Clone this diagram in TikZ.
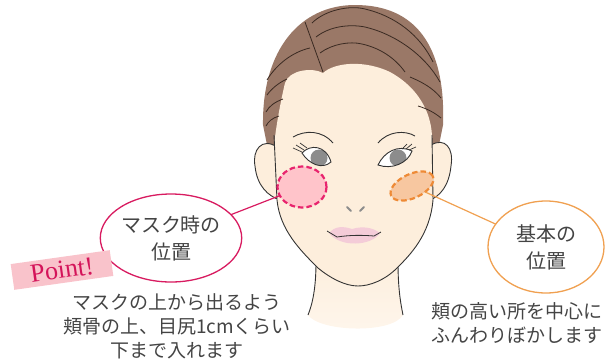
\documentclass[tikz,border=0pt]{standalone}
\usepackage{fontspec}
\setmainfont{Noto Sans CJK JP}
\newfontfamily\pointfont{Liberation Serif}
\usetikzlibrary{shapes.geometric}
\definecolor{hair}{HTML}{9A7867}
\definecolor{skin}{HTML}{FDEEDC}
\definecolor{ink}{HTML}{333333}
\definecolor{strand}{HTML}{3A2A22}
\definecolor{blushpink}{HTML}{FFC4CA}
\definecolor{edgepink}{HTML}{E8246E}
\definecolor{blushorange}{HTML}{F7C7A0}
\definecolor{edgeorange}{HTML}{EE8A36}
\definecolor{calloutpink}{HTML}{D81B60}
\definecolor{calloutorange}{HTML}{F0A050}
\definecolor{lip}{HTML}{F4CCD8}
\definecolor{iris}{HTML}{8C8C8C}
\definecolor{pointbg}{HTML}{F9C3CB}
\definecolor{pointred}{HTML}{D4145A}
\definecolor{textgray}{HTML}{444444}
\tikzset{
  outline/.style={draw=ink, line width=0.9pt},
  hairline/.style={draw=strand, line width=0.8pt},
  blush/.style={ellipse, inner sep=0pt, outer sep=0pt, line width=2.2pt, dash pattern=on 5.5pt off 3pt},
  callout/.style={ellipse, inner sep=0pt, outer sep=0pt, line width=1.3pt, fill=white, align=center,
    text=textgray, font=\fontsize{20}{27}\selectfont},
  note/.style={align=center, text=textgray, font=\fontsize{19}{24}\selectfont, inner sep=0pt}
}
\begin{document}
\begin{tikzpicture}[x=1pt,y=-1pt]
\useasboundingbox (0,0) rectangle (606,360);

% hair mass
\fill[hair] (268,150) -- (263,125) .. controls (262,50) and (300,5) .. (355,5)
  .. controls (415,5) and (446,45) .. (443,125) -- (438,150) -- cycle;

% ears
\filldraw[fill=skin, outline] (277,147) .. controls (262,137) and (252,150) .. (255,166)
  .. controls (257,186) and (268,196) .. (280,200) -- cycle;
\filldraw[fill=skin, outline] (431,145) .. controls (445,137) and (454,148) .. (451,166)
  .. controls (449,186) and (440,196) .. (430,200) -- cycle;

% neck, fading out at the bottom
\shade[top color=skin, bottom color=skin!55!white] (316,255) .. controls (316,290) and (312,305) .. (308,315)
  .. controls (320,332) and (392,334) .. (403,315)
  .. controls (401,305) and (398,290) .. (398,255) -- cycle;
\draw[outline] (316,262) .. controls (316,290) and (312,305) .. (308,315);
\draw[outline] (398,262) .. controls (398,290) and (401,305) .. (403,315);

% face
\fill[skin] (274,145) .. controls (277,120) and (281,100) .. (285,83)
  .. controls (289,70) and (312,67) .. (323,73)
  .. controls (335,62) and (365,60) .. (390,72)
  .. controls (412,84) and (430,105) .. (432,135)
  -- (433,200) .. controls (430,235) and (410,255) .. (397,268)
  .. controls (385,280) and (370,286) .. (358,286)
  .. controls (345,286) and (330,278) .. (318,268)
  .. controls (300,250) and (280,230) .. (277,200) -- cycle;
\draw[outline] (274,135) -- (277,200) .. controls (280,230) and (300,250) .. (318,268)
  .. controls (330,278) and (345,286) .. (358,286)
  .. controls (370,286) and (385,280) .. (397,268)
  .. controls (410,255) and (430,235) .. (433,200) -- (432,135);

% hair strands
\draw[hairline] (305,22) -- (323,72);
\draw[hairline] (312,23) .. controls (325,10) and (350,5) .. (365,9) .. controls (395,16) and (420,35) .. (433,62);
\draw[hairline] (316,37) .. controls (330,26) and (350,24) .. (365,27) .. controls (395,34) and (425,55) .. (440,82);
\draw[hairline] (320,53) .. controls (332,44) and (350,41) .. (362,44) .. controls (380,48) and (395,58) .. (405,72);
\draw[hairline] (410,77) .. controls (422,82) and (433,88) .. (441,98);
\draw[hairline] (418,106) .. controls (428,109) and (435,113) .. (441,118);
\draw[hairline] (267,80) .. controls (276,65) and (292,52) .. (310,48);
\draw[hairline] (267,95) .. controls (272,88) and (280,82) .. (287,79);
\draw[hairline] (266,112) .. controls (269,106) and (275,102) .. (283,99);
\draw[hairline] (266,126) .. controls (268,122) and (272,118) .. (279,116);

% eyebrows
\draw[outline] (293,137) .. controls (305,130) and (322,130) .. (333,143);
\draw[outline] (378,143) .. controls (388,131) and (405,130) .. (415,136);

% left eye
\begin{scope}
  \clip (302,153) .. controls (310,144) and (326,145) .. (331,162) .. controls (322,170) and (309,164) .. (302,153) -- cycle;
  \fill[white] (300,140) rectangle (335,170);
  \fill[iris] (319,158) circle (8.5);
\end{scope}
\draw[outline] (302,153) .. controls (310,144) and (326,145) .. (331,162) .. controls (322,170) and (309,164) .. (302,153) -- cycle;
\draw[outline, line width=0.7pt] (302,152) -- (293,148) (304,150) -- (296,145) (307,148) -- (300,143);

% right eye
\begin{scope}
  \clip (378,165) .. controls (384,152) and (398,144) .. (412,151) .. controls (408,163) and (392,170) .. (378,165) -- cycle;
  \fill[white] (375,140) rectangle (415,172);
  \fill[iris] (398,158) circle (8.5);
\end{scope}
\draw[outline] (378,165) .. controls (384,152) and (398,144) .. (412,151) .. controls (408,163) and (392,170) .. (378,165) -- cycle;
\draw[outline, line width=0.7pt] (402,149) -- (407,144) (406,149) -- (412,144) (409,150) -- (416,147);

% nose
\draw[iris, line width=1.8pt, line cap=round] (347,207) -- (351,211) (364,207) -- (360,211);

% lips
\fill[lip] (329,233) .. controls (335,226) and (343,226) .. (352,229)
  .. controls (362,226) and (372,227) .. (380,233)
  .. controls (372,246) and (340,248) .. (329,233) -- cycle;
\draw[outline, line width=0.8pt] (327,231) -- (337,237) .. controls (350,235) and (362,235) .. (374,236) -- (381,232);

% blush areas
\node[blush, fill=blushpink, draw=edgepink, minimum width=49pt, minimum height=41pt] (maskblush) at (302,187) {};
\node[blush, fill=blushorange, draw=edgeorange, minimum width=46pt, minimum height=24pt, rotate=25] (baseblush) at (412,186) {};

% callouts
\node[callout, draw=calloutpink, minimum width=124pt, minimum height=88pt] (maskcall) at (171,238) {マスク時の\\位置};
\node[callout, draw=calloutorange, minimum width=116pt, minimum height=92pt] (basecall) at (546,247) {基本の\\位置};
\draw[calloutpink, line width=1.2pt] (maskcall) -- (maskblush);
\draw[calloutorange, line width=1.2pt] (basecall) -- (baseblush);

% point tag
\node[fill=pointbg, minimum width=100pt, minimum height=26pt, rotate=8, inner sep=0pt,
  text=pointred, font=\pointfont\fontsize{26}{26}\selectfont] (pointtag) at (62,270) {Point!};

% notes
\node[note] (masknote) at (177,326) {マスクの上から出るよう\\頬骨の上、目尻1cmくらい\\下まで入れます};
\node[note] (basenote) at (517,323) {頬の高い所を中心に\\ふんわりぼかします};
\end{tikzpicture}
\end{document}
